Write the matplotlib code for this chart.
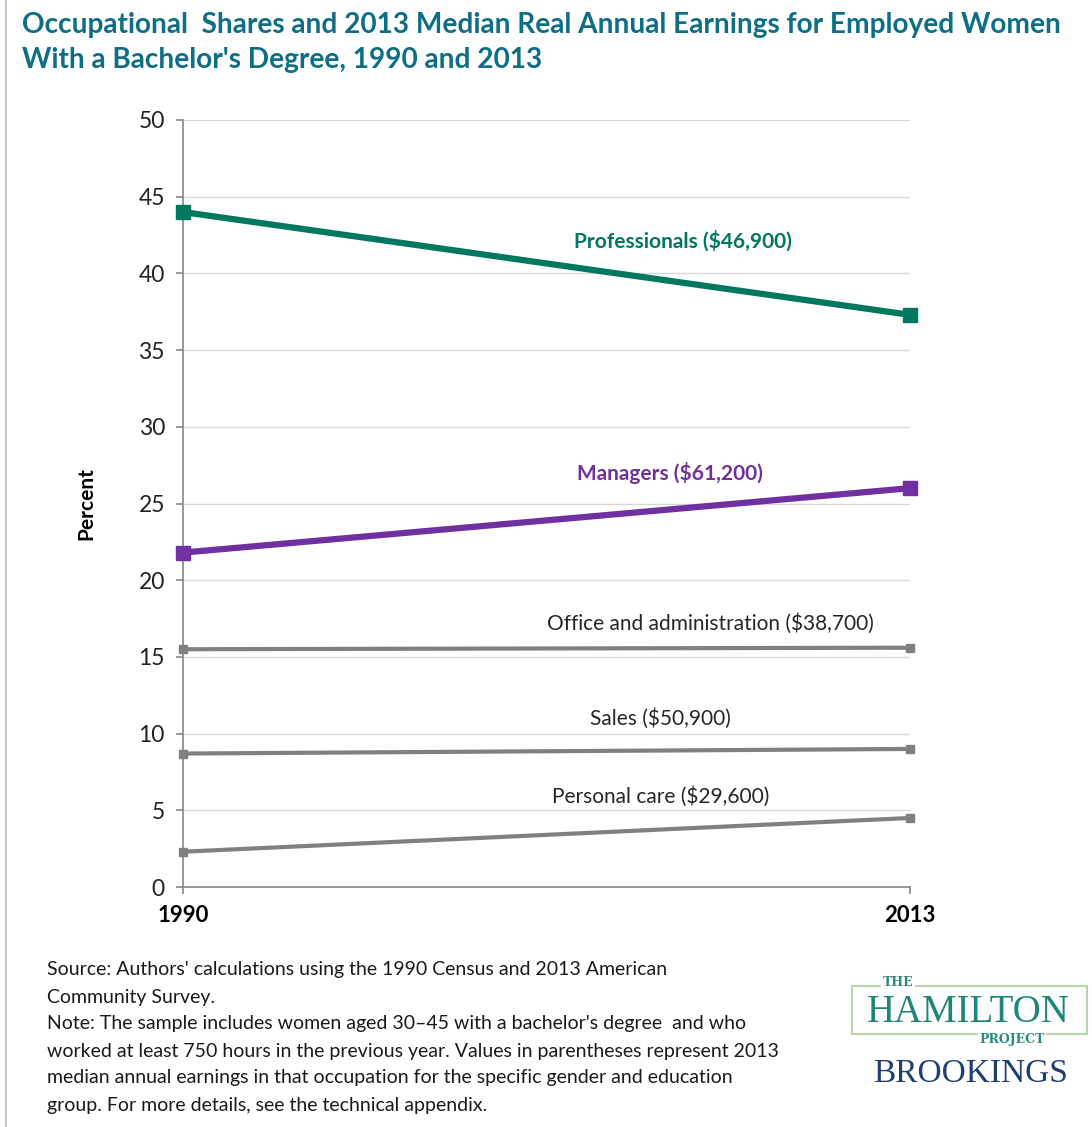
import matplotlib
matplotlib.use("Agg")
import matplotlib.pyplot as plt
from matplotlib.patches import Rectangle
from matplotlib.lines import Line2D

# ---- data ----
years = ["1990", "2013"]
professionals = [44.0, 37.3]
managers = [21.8, 26.0]
office_admin = [15.5, 15.6]
sales = [8.7, 9.0]
personal_care = [2.3, 4.5]
series_labels = ["Professionals ($46,900)", "Managers ($61,200)",
                 "Office and administration ($38,700)", "Sales ($50,900)",
                 "Personal care ($29,600)"]
yticks = [0, 5, 10, 15, 20, 25, 30, 35, 40, 45, 50]

FONT = "Lato"
plt.rcParams['font.family'] = [FONT, 'DejaVu Sans']

fig = plt.figure(figsize=(10.92, 11.27), dpi=100)
ax = fig.add_axes([183/1092, 1-887/1127, (910-183)/1092, (887-120)/1127])

x = [0, 1]
teal = "#00775F"
purple = "#7030A0"
gray = "#808080"

ax.plot(x, professionals, color=teal, lw=4.5, marker="s", ms=10, solid_capstyle="butt", zorder=4, clip_on=False)
ax.plot(x, managers, color=purple, lw=4.5, marker="s", ms=10, solid_capstyle="butt", zorder=4, clip_on=False)
ax.plot(x, office_admin, color=gray, lw=3, marker="s", ms=6, solid_capstyle="butt", zorder=3, clip_on=False)
ax.plot(x, sales, color=gray, lw=3, marker="s", ms=6, solid_capstyle="butt", zorder=3, clip_on=False)
ax.plot(x, personal_care, color=gray, lw=3, marker="s", ms=6, solid_capstyle="butt", zorder=3, clip_on=False)

ax.set_xlim(0, 1)
ax.set_ylim(0, 50)
ax.set_yticks(yticks)
ax.set_yticklabels([str(t) for t in yticks], fontsize=16.5, color="#222222")
ax.set_xticks(x)
ax.set_xticklabels(years, fontsize=16, fontweight="bold", color="#000000")
ax.grid(axis="y", color="#D9D9D9", lw=1)
ax.set_axisbelow(True)
for s in ["top", "right"]:
    ax.spines[s].set_visible(False)
for s in ["left", "bottom"]:
    ax.spines[s].set_color("#868686")
    ax.spines[s].set_linewidth(1.2)
ax.tick_params(axis="both", direction="out", length=5, color="#868686", width=1.2)
ax.tick_params(axis="y", pad=8)
ax.tick_params(axis="x", pad=8)
ax.set_ylabel("Percent", fontsize=15, fontweight="bold", labelpad=30)

# series labels
ax.text(0.688, 42.1, series_labels[0], color=teal, fontsize=15, fontweight="bold", ha="center", va="center")
ax.text(0.670, 27.0, series_labels[1], color=purple, fontsize=15, fontweight="bold", ha="center", va="center")
ax.text(0.726, 17.2, series_labels[2], color="#262626", fontsize=15, ha="center", va="center")
ax.text(0.657, 11.0, series_labels[3], color="#262626", fontsize=15, ha="center", va="center")
ax.text(0.657, 5.87, series_labels[4], color="#262626", fontsize=15, ha="center", va="center")

# title
fig.text(22/1092, 1-25/1127, "Occupational  Shares and 2013 Median Real Annual Earnings for Employed Women",
         fontsize=20.2, fontweight="bold", color="#0E6E85", ha="left", va="center")
fig.text(22/1092, 1-60/1127, "With a Bachelor's Degree, 1990 and 2013",
         fontsize=20.2, fontweight="bold", color="#0E6E85", ha="left", va="center")

# footer
foot = ["Source: Authors' calculations using the 1990 Census and 2013 American",
        "Community Survey.",
        "Note: The sample includes women aged 30\u201345 with a bachelor's degree  and who",
        "worked at least 750 hours in the previous year. Values in parentheses represent 2013",
        "median annual earnings in that occupation for the specific gender and education",
        "group. For more details, see the technical appendix."]
for i, line in enumerate(foot):
    fig.text(47/1092, 1-(970+27*i)/1127, line, fontsize=14, color="#1a1a1a", ha="left", va="center")

# left border line
fig.add_artist(Line2D([6/1092, 6/1092], [0, 1], color="#C8C8C8", lw=1.5))

# logo
fig.add_artist(Rectangle((852/1092, 1-1034/1127), (1087-852)/1092, (1034-986)/1127,
                         fill=False, edgecolor="#B5D9A8", lw=1.5))
fig.text(898/1092, 1-983/1127, "THE", fontsize=9, fontweight="bold", family="DejaVu Serif",
         color="#2E8B7A", ha="center", va="center",
         bbox=dict(facecolor="white", edgecolor="none", pad=1), zorder=5)
fig.text(968/1092, 1-1022/1127, "HAMILTON", fontsize=28, family="Liberation Serif",
         color="#1E8577", ha="center", va="baseline", zorder=4)
fig.text(1012/1092, 1-1039/1127, "PROJECT", fontsize=9, fontweight="bold", family="DejaVu Serif",
         color="#2E8B7A", ha="center", va="center",
         bbox=dict(facecolor="white", edgecolor="none", pad=1), zorder=5)
fig.text(971/1092, 1-1074/1127, "BROOKINGS", fontsize=24, family="Liberation Serif",
         color="#1F3F73", ha="center", va="center")

fig.savefig("out.png", dpi=100)
